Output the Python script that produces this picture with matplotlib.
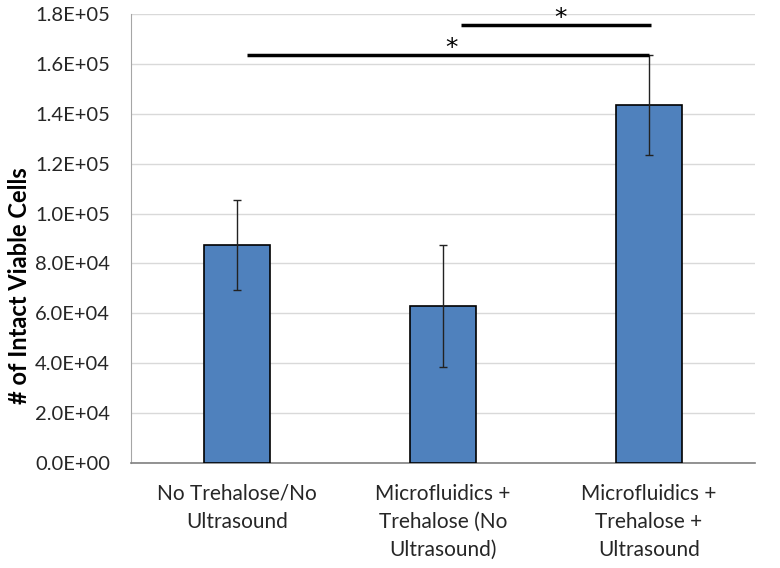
import numpy as np
import matplotlib.pyplot as plt

categories = ["No Trehalose/No\nUltrasound",
              "Microfluidics +\nTrehalose (No\nUltrasound)",
              "Microfluidics +\nTrehalose +\nUltrasound"]
values = [87500, 63000, 143500]
errors = [18000, 24500, 20000]
yticks = [0, 20000, 40000, 60000, 80000, 100000, 120000, 140000, 160000, 180000]
ytick_labels = ["0.0E+00", "2.0E+04", "4.0E+04", "6.0E+04", "8.0E+04",
                "1.0E+05", "1.2E+05", "1.4E+05", "1.6E+05", "1.8E+05"]

# significance brackets: (x start, x end, height, star x)
sig_brackets = [(0.05, 2.0, 163500, 1.04), (1.085, 2.01, 175500, 1.57)]

plt.rcParams['font.family'] = ['Lato', 'DejaVu Sans']

fig = plt.figure(figsize=(7.8, 5.68), dpi=100)
ax = fig.add_axes([0.168, 0.185, 0.80, 0.79])

x = np.arange(len(categories))
ax.bar(x, values, width=0.324, color='#4f81bd', edgecolor='black', linewidth=1.2, zorder=3)
ax.errorbar(x, values, yerr=errors, fmt='none', ecolor='#222222', elinewidth=1,
            capsize=3, capthick=1, zorder=4)

for x0, x1, h, xs in sig_brackets:
    ax.plot([x0, x1], [h, h], color='black', linewidth=2.5, solid_capstyle='butt',
            zorder=5, clip_on=False)
    ax.text(xs, h + 3000, "*", ha='center', va='center', fontsize=18,
            family='DejaVu Sans', zorder=5, clip_on=False)

ax.set_xlim(-0.515, 2.515)
ax.set_ylim(0, 180000)
ax.set_yticks(yticks)
ax.set_yticklabels(ytick_labels, fontsize=14.5, color='#262626')
ax.set_xticks(x)
ax.set_xticklabels(categories, fontsize=15, linespacing=1.5, color='#262626')
ax.tick_params(axis='both', length=0)
ax.tick_params(axis='y', pad=15)
ax.tick_params(axis='x', pad=15)

ax.grid(axis='y', color='#d9d9d9', linewidth=1, zorder=0)
ax.set_axisbelow(True)
for side in ['top', 'right']:
    ax.spines[side].set_visible(False)
ax.spines['left'].set_color('#a6a6a6')
ax.spines['bottom'].set_color('#808080')
ax.spines['bottom'].set_linewidth(1.2)

ax.set_ylabel("# of Intact Viable Cells", fontsize=17, fontweight='bold', labelpad=3, y=0.396)

fig.savefig("out.png", dpi=100)
